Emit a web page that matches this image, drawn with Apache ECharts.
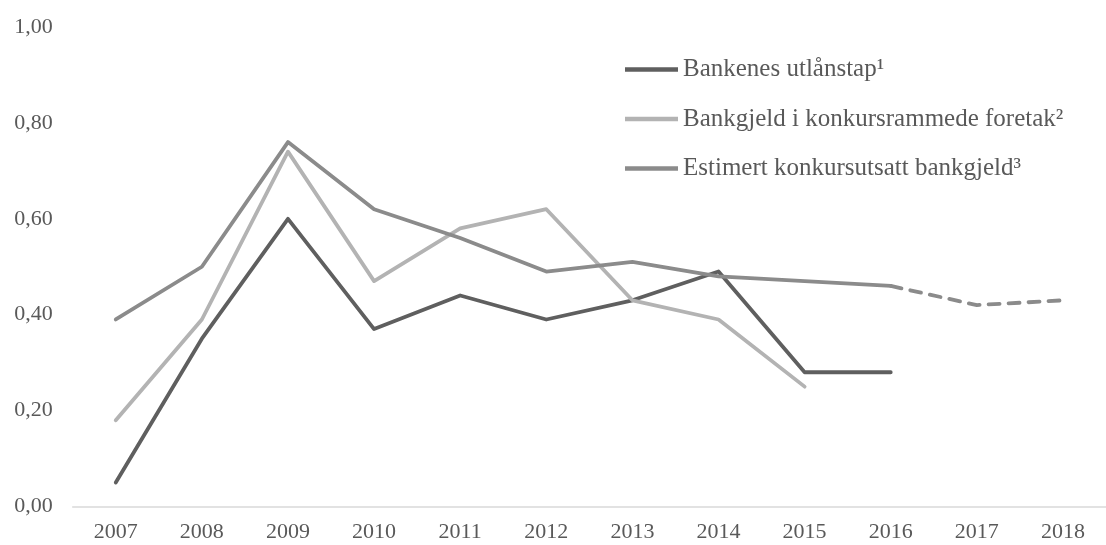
<!DOCTYPE html>
<html>
<head>
<meta charset="utf-8">
<script src="https://cdn.jsdelivr.net/npm/echarts@6/dist/echarts.min.js"></script>
<style>
  html, body { margin: 0; padding: 0; background: #ffffff; }
  #chart { width: 1106px; height: 545px; }
</style>
</head>
<body>
<div id="chart"></div>
<script>
// Years on the horizontal axis
const years = ['2007', '2008', '2009', '2010', '2011', '2012', '2013', '2014', '2015', '2016', '2017', '2018'];

// Series names (with footnote markers)
const nameLoss = 'Bankenes utlånstap\u00B9';
const nameDebt = 'Bankgjeld i konkursrammede foretak\u00B2';
const nameEst = 'Estimert konkursutsatt bankgjeld\u00B3';

// Values, per cent of lending
const lossValues = [0.05, 0.35, 0.60, 0.37, 0.44, 0.39, 0.43, 0.49, 0.28, 0.28, null, null];
const debtValues = [0.18, 0.39, 0.74, 0.47, 0.58, 0.62, 0.43, 0.39, 0.25, null, null, null];
const estValues = [0.39, 0.50, 0.76, 0.62, 0.56, 0.49, 0.51, 0.48, 0.47, 0.46, null, null];
// Projected part of the estimate (dashed), starting from the last observed year
const estForecast = [null, null, null, null, null, null, null, null, null, 0.46, 0.42, 0.43];

// Value-axis ticks
const yMin = 0;
const yMax = 1;
const yStep = 0.2;

const colLoss = '#5f5f5f';
const colDebt = '#b3b3b3';
const colEst = '#8b8b8b';
const textCol = '#595959';
const font = '"Liberation Serif", "Times New Roman", serif';

const chart = echarts.init(document.getElementById('chart'), null, { renderer: 'canvas' });

function lineSeries(name, data, color, dashed) {
  return {
    name: name,
    type: 'line',
    data: data,
    symbol: 'none',
    connectNulls: false,
    silent: true,
    lineStyle: {
      color: color,
      width: 3.8,
      type: dashed ? [11, 9] : 'solid',
      cap: 'round',
      join: 'round'
    },
    itemStyle: { color: color }
  };
}

chart.setOption({
  animation: false,
  backgroundColor: '#ffffff',
  textStyle: { fontFamily: font },
  grid: { left: 72.7, right: -6, top: 27, bottom: 38.5, containLabel: false },
  legend: {
    data: [nameLoss, nameDebt, nameEst],
    orient: 'vertical',
    left: 625,
    top: 57,
    padding: 0,
    icon: 'rect',
    itemWidth: 53,
    itemHeight: 4.5,
    itemGap: 24.5,
    selectedMode: false,
    textStyle: { color: textCol, fontFamily: font, fontSize: 25, lineHeight: 25 }
  },
  xAxis: {
    type: 'category',
    data: years,
    boundaryGap: true,
    axisLine: { show: true, lineStyle: { color: '#d9d9d9', width: 1.5 } },
    axisTick: { show: false },
    axisLabel: { color: textCol, fontFamily: font, fontSize: 22, margin: 15 },
    splitLine: { show: false }
  },
  yAxis: {
    type: 'value',
    min: yMin,
    max: yMax,
    interval: yStep,
    axisLine: { show: false },
    axisTick: { show: false },
    splitLine: { show: false },
    axisLabel: {
      color: textCol,
      fontFamily: font,
      fontSize: 22,
      margin: 20,
      formatter: function (v) { return v.toFixed(2).replace('.', ','); }
    }
  },
  series: [
    lineSeries(nameLoss, lossValues, colLoss, false),
    lineSeries(nameDebt, debtValues, colDebt, false),
    lineSeries(nameEst, estValues, colEst, false),
    lineSeries(nameEst + ' (anslag)', estForecast, colEst, true)
  ]
});
</script>
</body>
</html>
